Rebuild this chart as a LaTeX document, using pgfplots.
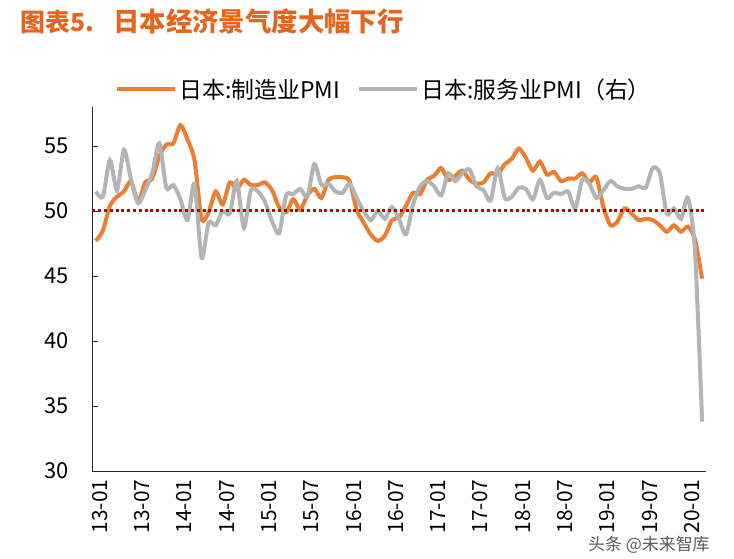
\documentclass[border=0pt]{standalone}
\usepackage{pgfplots}
\pgfplotsset{compat=1.18}
\usepackage{pgfplotstable}
\usepackage{fontspec}
\setmainfont{Noto Sans CJK SC}

\definecolor{mfg}{HTML}{ED7D31}
\definecolor{svc}{HTML}{B4B4B4}
\definecolor{refline}{HTML}{C00000}
\definecolor{ttl}{HTML}{E4661E}

% Japan PMI, monthly, 2013-01 (m=0) to 2020-03 (m=86)
\pgfplotstableread{
m  pmi
0  47.7
1  48.5
2  50.4
3  51.1
4  51.5
5  52.3
6  50.7
7  52.2
8  52.5
9  54.2
10 55.1
11 55.2
12 56.6
13 55.5
14 53.9
15 49.4
16 49.9
17 51.5
18 50.5
19 52.2
20 51.7
21 52.4
22 52.0
23 52.0
24 52.2
25 51.6
26 50.3
27 49.9
28 50.9
29 50.1
30 51.2
31 51.7
32 51.0
33 52.4
34 52.6
35 52.6
36 52.3
37 50.1
38 49.1
39 48.2
40 47.7
41 48.1
42 49.3
43 49.5
44 50.4
45 51.4
46 51.3
47 52.4
48 52.7
49 53.3
50 52.4
51 52.7
52 53.1
53 52.4
54 52.1
55 52.2
56 52.9
57 52.8
58 53.6
59 54.0
60 54.8
61 54.1
62 53.1
63 53.8
64 52.8
65 53.0
66 52.3
67 52.5
68 52.5
69 52.9
70 52.2
71 52.6
72 50.3
73 48.9
74 49.2
75 50.2
76 49.8
77 49.3
78 49.4
79 49.3
80 48.9
81 48.4
82 48.9
83 48.4
84 48.8
85 47.8
86 44.8
}\manufacturing

\pgfplotstableread{
m  pmi
0  51.5
1  51.1
2  53.9
3  51.6
4  54.7
5  52.4
6  50.6
7  51.6
8  52.9
9  55.2
10 51.8
11 52.0
12 50.9
13 49.3
14 52.1
15 46.4
16 49.1
17 48.9
18 50.0
19 49.8
20 52.3
21 48.7
22 51.6
23 51.5
24 50.7
25 49.2
26 48.3
27 51.2
28 51.3
29 51.7
30 51.1
31 53.6
32 52.0
33 52.1
34 51.5
35 51.4
36 52.1
37 51.0
38 50.0
39 49.3
40 50.0
41 49.4
42 50.3
43 49.4
44 48.2
45 50.5
46 51.9
47 52.3
48 51.9
49 51.2
50 52.9
51 52.3
52 52.9
53 53.2
54 51.9
55 51.6
56 50.8
57 53.3
58 51.0
59 51.1
60 51.8
61 51.7
62 50.9
63 52.4
64 51.0
65 51.4
66 51.3
67 51.5
68 50.2
69 52.4
70 52.1
71 51.0
72 51.6
73 52.3
74 51.9
75 51.7
76 51.7
77 51.9
78 51.8
79 53.3
80 52.9
81 49.8
82 50.2
83 49.4
84 51.0
85 46.8
86 33.8
}\services

\begin{document}
\begin{tikzpicture}[x=1bp,y=1bp]
\path[use as bounding box] (0,0) rectangle (734,559);

% title
\node[anchor=base west, inner sep=0pt, text=ttl,
      font=\fontsize{25}{30}\selectfont\bfseries] at (20,527) {图表5.};
\node[anchor=base west, inner sep=0pt, text=ttl,
      font=\fontsize{26.5}{30}\selectfont\bfseries] at (113,527) {日本经济景气度大幅下行};

\begin{axis}[
  at={(92.3bp,88bp)}, anchor=south west,
  scale only axis, width=613.3bp, height=364bp,
  xmin=-0.5, xmax=86.5, ymin=30, ymax=58,
  axis x line*=bottom, axis y line*=left,
  axis line style={-, black!85, line width=0.9bp},
  xtick pos=left, ytick pos=left,
  tick align=inside,
  major tick length=6bp,
  tick style={black!85, line width=0.9bp},
  ytick={30,35,...,55},
  xtick={0,6,...,84},
  xticklabels={13-01,13-07,14-01,14-07,15-01,15-07,16-01,16-07,17-01,17-07,18-01,18-07,19-01,19-07,20-01},
  major x tick style={draw=none},
  extra x ticks={-0.5,5.5,...,83.5},
  extra x tick labels={},
  extra x tick style={major tick length=6bp, tick style={draw=black!85, line width=0.9bp}},
  /pgf/number format/assume math mode=true,
  yticklabel style={font=\fontsize{22}{26}\selectfont, xshift=-20bp},
  xticklabel style={font=\fontsize{21}{25}\selectfont, xshift=4bp, rotate=90, anchor=east},
  xticklabel shift=5bp,
  legend columns=2,
  legend cell align=left,
  legend style={draw=none, fill=none, at={(0.037,1.049)}, anchor=west,
    inner sep=0pt, font=\fontsize{23}{27}\selectfont,
    /tikz/every odd column/.append style={column sep=0bp},
    /tikz/every even column/.append style={column sep=15bp}},
  legend image code/.code={\draw[#1, line width=4.2bp] (0bp,0bp) -- (58bp,0bp);},
]
\addplot[mfg, line width=4bp, smooth, tension=0.45] table[x=m, y=pmi] {\manufacturing};
\addlegendentry{日本:制造业PMI}
\addplot[svc, line width=4bp, smooth, tension=0.45] table[x=m, y=pmi] {\services};
\addlegendentry{日本:服务业PMI（右）}
\addplot[refline, line width=3bp, dash pattern=on 3bp off 2.8bp, forget plot]
  coordinates {(-0.5,50) (86.3,50)};
\end{axis}

% source mark
\node[anchor=base west, inner sep=0pt, text=black!65,
      font=\fontsize{17}{20}\selectfont] at (588,8) {头条 @未来智库};
\end{tikzpicture}
\end{document}
